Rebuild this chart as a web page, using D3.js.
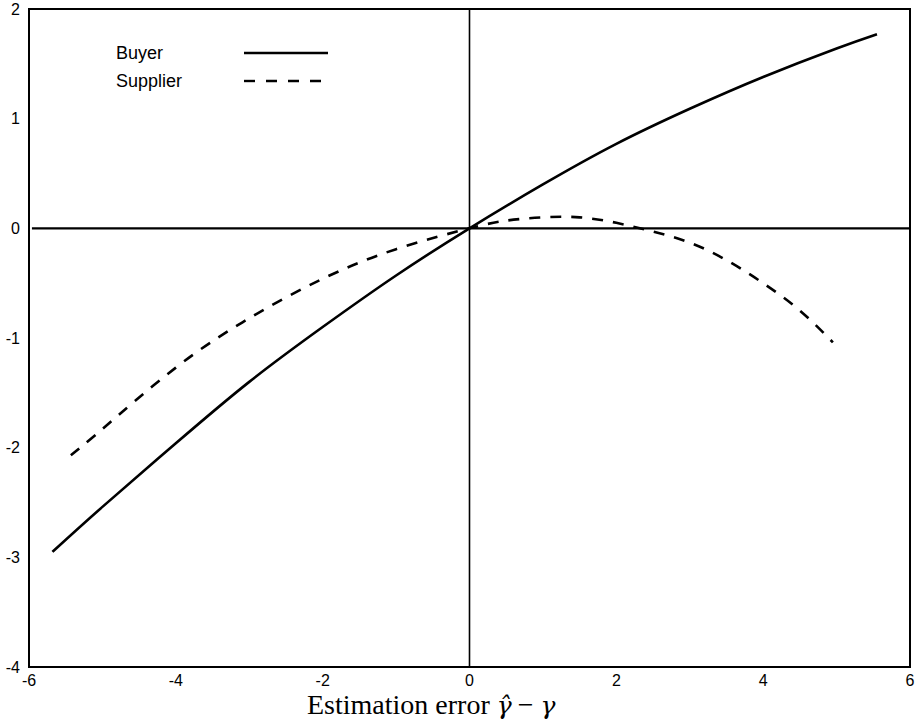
<!DOCTYPE html>
<html>
<head>
<meta charset="utf-8">
<script src="https://cdn.jsdelivr.net/npm/d3@7/dist/d3.min.js"></script>
<style>
  html, body { margin: 0; padding: 0; background: #fff; }
  svg { display: block; }
</style>
</head>
<body>
<div id="chart"></div>
<script>
// ---- data ----
const buyerX    = [-5.68, -5, -4, -3, -2, -1, 0, 1, 2, 3, 4, 5, 5.55];
const buyerY    = [-2.95, -2.54, -1.96, -1.40, -0.90, -0.43, 0, 0.40, 0.77, 1.09, 1.38, 1.64, 1.77];
const supplierX = [-5.43, -5, -4, -3, -2, -1, 0, 0.5, 1, 1.5, 2, 2.5, 3, 3.5, 4, 4.5, 4.95];
const supplierY = [-2.07, -1.83, -1.27, -0.82, -0.46, -0.19, 0, 0.07, 0.10, 0.10, 0.05, -0.03, -0.13, -0.29, -0.50, -0.75, -1.04];
const xTicks = [-6, -4, -2, 0, 2, 4, 6];
const yTicks = [2, 1, 0, -1, -2, -3, -4];
const seriesNames = ["Buyer", "Supplier"];
const xLabel = "Estimation error ";

// ---- layout ----
const W = 917, H = 725;
const margin = { left: 29, right: 7, top: 9, bottom: 58 };

const svg = d3.select("#chart").append("svg")
  .attr("width", W).attr("height", H);

const x = d3.scaleLinear().domain([-6, 6]).range([margin.left, W - margin.right]);
const y = d3.scaleLinear().domain([-4, 2]).range([H - margin.bottom, margin.top]);

// frame
svg.append("rect")
  .attr("x", x(-6)).attr("y", y(2))
  .attr("width", x(6) - x(-6)).attr("height", y(-4) - y(2))
  .attr("fill", "none").attr("stroke", "#000").attr("stroke-width", 2);

// zero lines
svg.append("line")
  .attr("x1", x(-5.96)).attr("x2", x(6))
  .attr("y1", y(0)).attr("y2", y(0))
  .attr("stroke", "#000").attr("stroke-width", 2.4);
svg.append("line")
  .attr("x1", x(0)).attr("x2", x(0))
  .attr("y1", y(2)).attr("y2", y(-4))
  .attr("stroke", "#000").attr("stroke-width", 1.6);

// tick labels
const tickFont = "'Liberation Sans', Arial, Helvetica, sans-serif";
svg.append("g").selectAll("text").data(yTicks).join("text")
  .attr("x", 20).attr("y", d => y(d)).attr("dy", "0.36em")
  .attr("text-anchor", "end")
  .attr("font-family", tickFont).attr("font-size", 16)
  .text(d => d);
svg.append("g").selectAll("text").data(xTicks).join("text")
  .attr("x", d => x(d)).attr("y", 686)
  .attr("text-anchor", "middle")
  .attr("font-family", tickFont).attr("font-size", 16)
  .text(d => d);

// curves
const line = d3.line().x(d => x(d[0])).y(d => y(d[1])).curve(d3.curveNatural);
const buyer = buyerX.map((v, i) => [v, buyerY[i]]);
const supplier = supplierX.map((v, i) => [v, supplierY[i]]);

svg.append("path").datum(buyer)
  .attr("d", line).attr("fill", "none")
  .attr("stroke", "#000").attr("stroke-width", 2.6);
svg.append("path").datum(supplier)
  .attr("d", line).attr("fill", "none")
  .attr("stroke", "#000").attr("stroke-width", 2.6)
  .attr("stroke-dasharray", "11,10");

// legend
const legend = svg.append("g");
const legY = [53, 81];
legend.selectAll("text").data(seriesNames).join("text")
  .attr("x", 116).attr("y", (d, i) => legY[i]).attr("dy", "0.36em")
  .attr("font-family", tickFont).attr("font-size", 18)
  .text(d => d);
legend.selectAll("line").data(seriesNames).join("line")
  .attr("x1", 244).attr("x2", 328)
  .attr("y1", (d, i) => legY[i]).attr("y2", (d, i) => legY[i])
  .attr("stroke", "#000").attr("stroke-width", 2.4)
  .attr("stroke-dasharray", (d, i) => i === 1 ? "11,11" : null);

// x axis title
const serif = "'Liberation Serif', 'Times New Roman', serif";
const title = svg.append("text")
  .attr("x", 307).attr("y", 714)
  .attr("font-family", serif)
  .attr("font-size", 28);
title.append("tspan").text(xLabel);
title.append("tspan")
  .attr("font-family", "'DejaVu Serif', serif").attr("font-style", "italic")
  .attr("font-size", 25)
  .text("\u03B3\u0302");
title.append("tspan").attr("dx", 6).text("\u2212");
title.append("tspan").attr("dx", 7)
  .attr("font-family", "'DejaVu Serif', serif").attr("font-style", "italic")
  .attr("font-size", 25)
  .text("\u03B3");
</script>
</body>
</html>
